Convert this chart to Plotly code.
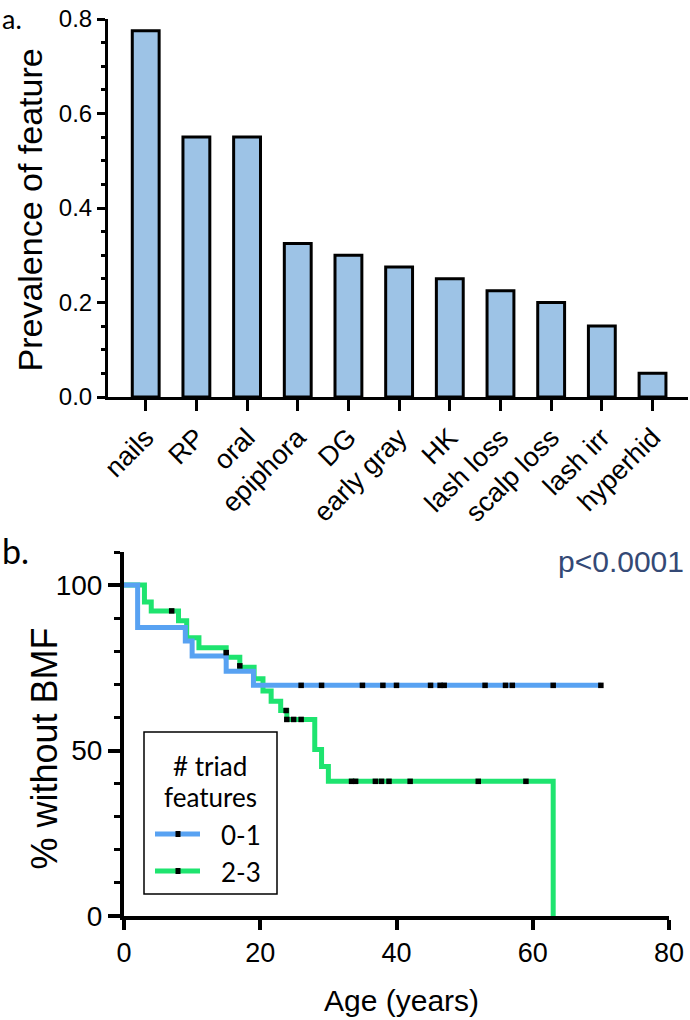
import plotly.graph_objects as go

W, H = 690, 1020
ARIAL = "Liberation Sans"
CALIBRI = "Lato"

# ---------------- Panel a: prevalence of features ----------------
features = ["nails", "RP", "oral", "epiphora", "DG", "early gray", "HK",
            "lash loss", "scalp loss", "lash irr", "hyperhid"]
prevalence = [0.775, 0.55, 0.55, 0.325, 0.30, 0.275, 0.25, 0.225, 0.20, 0.15, 0.05]
prev_ticks = [0.0, 0.2, 0.4, 0.6, 0.8]

# ---------------- Panel b: Kaplan-Meier (% without BMF) ----------------
legend_title = ["# triad", "features"]
group_names = ["0-1", "2-3"]
group_colors = ["#58A2F2", "#1EE46F"]

g01_event_age = [0, 2, 9, 10, 15, 19]
g01_event_pct = [100, 87.2, 83.1, 78.6, 74.0, 69.7]
g01_censor_age = [26, 29, 35, 38, 40, 45, 46.4, 47, 53, 56, 57, 63, 70]
g01_censor_pct = [69.7, 69.7, 69.7, 69.7, 69.7, 69.7, 69.7, 69.7, 69.7, 69.7, 69.7, 69.7, 69.7]

g23_event_age = [0, 3, 4, 8, 9.2, 11, 15, 17, 19.1, 20.4, 21.6, 23.0, 23.9, 28, 29, 30, 63]
g23_event_pct = [100, 94.9, 92.2, 89.2, 84.1, 81.1, 78.2, 75.2, 71.7, 68.0, 64.9, 62.1, 59.4,
                 50.3, 45.2, 40.7, 0]
g23_censor_age = [7, 15, 17, 23.8, 23.9, 24.9, 26, 33.4, 34, 36.9, 37.8, 38.9, 42, 52, 59]
g23_censor_pct = [92.2, 79.6, 75.6, 62.1, 59.4, 59.4, 59.4, 40.7, 40.7, 40.7, 40.7, 40.7,
                  40.7, 40.7, 40.7]

age_ticks = [0, 20, 40, 60, 80]
pct_ticks = [0, 50, 100]

fig = go.Figure()

# Bars
fig.add_trace(go.Bar(
    x=features, y=prevalence, width=0.53,
    marker=dict(color="#9DC3E6", line=dict(color="black", width=3)),
    xaxis="x", yaxis="y", showlegend=False, hoverinfo="skip"))


def km_line(ev_age, ev_pct, c_age):
    xs = list(ev_age)
    ys = list(ev_pct)
    if max(c_age) > xs[-1]:
        xs.append(max(c_age))
        ys.append(ys[-1])
    return xs, ys


groups = [
    (g23_event_age, g23_event_pct, g23_censor_age, g23_censor_pct, group_colors[1]),
    (g01_event_age, g01_event_pct, g01_censor_age, g01_censor_pct, group_colors[0]),
]
for ev_a, ev_p, c_a, c_p, col in groups:
    lx, ly = km_line(ev_a, ev_p, c_a)
    fig.add_trace(go.Scatter(x=lx, y=ly, mode="lines", line=dict(color=col, width=5, shape="hv"),
                             xaxis="x2", yaxis="y2", showlegend=False, hoverinfo="skip"))
for ev_a, ev_p, c_a, c_p, col in groups:
    fig.add_trace(go.Scatter(x=c_a, y=c_p, mode="markers",
                             marker=dict(symbol="square", size=5.5, color="black"),
                             xaxis="x2", yaxis="y2", showlegend=False, hoverinfo="skip"))

axis_common = dict(showgrid=False, zeroline=False, showline=True, linecolor="black",
                   ticks="outside", tickcolor="black", automargin=False)

fig.update_layout(
    width=W, height=H,
    margin=dict(l=0, r=0, t=0, b=0, autoexpand=False),
    paper_bgcolor="white", plot_bgcolor="white",
    font=dict(family=ARIAL, color="black"),
    showlegend=False,
    xaxis=dict(domain=[108 / W, 688 / W], anchor="y", type="category",
               range=[-0.744, 10.70], linewidth=3, ticklen=11, tickwidth=3,
               tickangle=-45, tickfont=dict(family=ARIAL, size=27, color="black"),
               **axis_common),
    yaxis=dict(domain=[1 - 397 / H, 1 - 19 / H], anchor="x", range=[0, 0.8],
               tickvals=prev_ticks, tickformat=".1f", linewidth=3, ticklen=8, tickwidth=3,
               tickfont=dict(family=ARIAL, size=24, color="black"),
               minor=dict(tick0=0, dtick=0.05, ticks="outside", ticklen=4, tickwidth=3,
                          tickcolor="black"),
               **axis_common),
    xaxis2=dict(domain=[124 / W, 669 / W], anchor="y2", range=[0, 80],
                tickvals=age_ticks, linewidth=4, ticklen=10, tickwidth=4,
                tickfont=dict(family=ARIAL, size=27, color="black"),
                **axis_common),
    yaxis2=dict(domain=[1 - 916 / H, 1 - 552 / H], anchor="x2", range=[0, 110],
                tickvals=pct_ticks, linewidth=4, ticklen=12, tickwidth=4,
                tickfont=dict(family=ARIAL, size=28, color="black"),
                minor=dict(tick0=0, dtick=10, ticks="outside", ticklen=6, tickwidth=3,
                           tickcolor="black"),
                **axis_common),
)

ann = [
    dict(text="a.", x=0 / W, y=1, xanchor="left", yanchor="top",
         font=dict(family=CALIBRI, size=27, color="black")),
    dict(text="b.", x=0 / W, y=1 - 550 / H, xanchor="left", yanchor="middle",
         font=dict(family=CALIBRI, size=34, color="black")),
    dict(text="Prevalence of feature", x=29.5 / W, y=1 - 210 / H, textangle=-90,
         xanchor="center", yanchor="middle", font=dict(family=ARIAL, size=34, color="black")),
    dict(text="% without BMF", x=44 / W, y=1 - 748.5 / H, textangle=-90,
         xanchor="center", yanchor="middle", font=dict(family=ARIAL, size=36, color="black")),
    dict(text="Age (years)", x=401.7 / W, y=1 - 1000 / H, xanchor="center", yanchor="middle",
         font=dict(family=ARIAL, size=30, color="black")),
    dict(text="p<0.0001", x=621 / W, y=1 - 561 / H, xanchor="center", yanchor="middle",
         font=dict(family=ARIAL, size=30, color="#344975")),
]

# ---- legend box (drawn as layout decoration) ----
LEG_X0, LEG_X1, LEG_Y0, LEG_Y1 = 144, 277, 732, 894
title_rows_y = [766, 797]
item_rows_y = [834, 871]
shapes = [dict(type="rect", xref="paper", yref="paper",
               x0=LEG_X0 / W, x1=LEG_X1 / W, y0=1 - LEG_Y1 / H, y1=1 - LEG_Y0 / H,
               line=dict(color="black", width=1.5), fillcolor="white", layer="above")]
for txt, yy in zip(legend_title, title_rows_y):
    ann.append(dict(text=txt, x=(LEG_X0 + LEG_X1) / 2 / W, y=1 - yy / H,
                    xanchor="center", yanchor="middle",
                    font=dict(family=CALIBRI, size=26, color="black")))
for name, col, yy in zip(group_names, group_colors, item_rows_y):
    shapes.append(dict(type="line", xref="paper", yref="paper",
                       x0=155 / W, x1=200 / W, y0=1 - yy / H, y1=1 - yy / H,
                       line=dict(color=col, width=5), layer="above"))
    shapes.append(dict(type="rect", xref="paper", yref="paper",
                       x0=175.5 / W, x1=180.5 / W, y0=1 - (yy + 3) / H, y1=1 - (yy - 3) / H,
                       line=dict(width=0), fillcolor="black", layer="above"))
    ann.append(dict(text=name, x=219 / W, y=1 - (yy + 1) / H, xanchor="left", yanchor="middle",
                    font=dict(family=CALIBRI, size=26, color="black")))

for a in ann:
    a.update(xref="paper", yref="paper", showarrow=False)
fig.update_layout(annotations=ann, shapes=shapes)

fig.write_html("out.html",
               config={"displayModeBar": False, "staticPlot": True},
               post_script="document.body.style.margin='0';document.body.style.padding='0';")
